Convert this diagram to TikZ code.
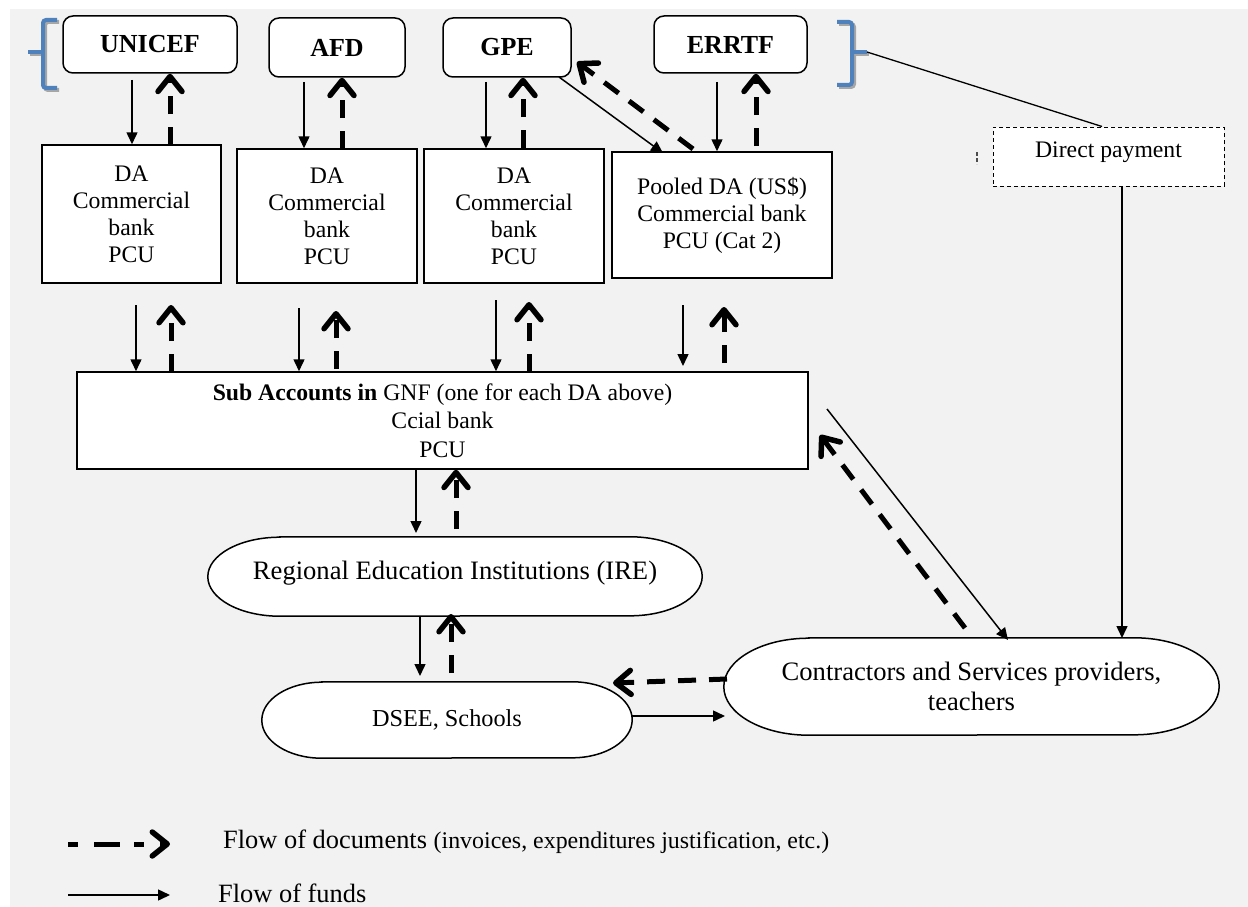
\documentclass[tikz,border=0pt]{standalone}
\usepackage{fontspec}
\setmainfont{Liberation Serif}
\usetikzlibrary{arrows.meta,calc}
\definecolor{bggray}{HTML}{F2F2F2}
\definecolor{brblue}{HTML}{4F81BD}
\definecolor{shgray}{HTML}{A6A6A6}
\pgfdeclarelayer{bottom}
\pgfdeclarelayer{background}
\pgfsetlayers{bottom,background,main}
\newcommand{\txt}{\fontsize{23.7}{27}\selectfont}
\newcommand{\bigtxt}{\fontsize{26.6}{29.5}\selectfont}
\newcommand{\stadium}[3]{%
  \begin{pgfonlayer}{background}
  \draw[fill=white,line width=1.5pt] ([xshift=#2]#1.north west) -- ([xshift=-#2]#1.north east)
     arc[start angle=90,end angle=-90,x radius=#2,y radius=#3]
     -- ([xshift=#2]#1.south west)
     arc[start angle=270,end angle=90,x radius=#2,y radius=#3] -- cycle;
  \end{pgfonlayer}}
\begin{document}
\begin{tikzpicture}[x=1pt,y=-1pt,
  box/.style={draw,fill=white,line width=1.5pt,align=center,font=\txt,inner sep=0pt},
  topbox/.style={box,rounded corners=10pt,font=\fontsize{26}{30}\selectfont\bfseries},
  oval/.style={align=center,font=\bigtxt,inner sep=0pt},
  fund/.style={line width=1.5pt,-{Triangle[length=12pt,width=11pt]}},
  doc/.style={line width=5pt,dash pattern=on 18pt off 13pt,-{Straight Barb[length=15pt,width=24pt,line width=5.5pt,round]}},
  brace/.style={brblue,line width=4pt,rounded corners=3pt},
  braceshadow/.style={shgray,line width=4pt,rounded corners=3pt}]
\useasboundingbox (0,0) rectangle (1248,907);
\begin{pgfonlayer}{bottom}
\fill[bggray] (10,9) rectangle (1248,907);
\end{pgfonlayer}

% top funders
\node[topbox,minimum width=174pt,minimum height=57pt] (unicef) at (150,44.5) {UNICEF};
\node[topbox,minimum width=136pt,minimum height=59pt] (afd) at (337,47.5) {AFD};
\node[topbox,minimum width=128pt,minimum height=59pt] (gpe) at (507,47.5) {GPE};
\node[topbox,minimum width=153pt,minimum height=57pt] (errtf) at (730.5,44.5) {ERRTF};

% braces
\draw[braceshadow] (59,22) -- (45,22) -- (45,90) -- (59,90);
\draw[braceshadow] (45,54) -- (30,54);
\draw[brace] (57,20) -- (43,20) -- (43,88) -- (57,88);
\draw[brace] (43,52) -- (28,52);
\draw[braceshadow] (839,24) -- (854,24) -- (854,87) -- (839,87);
\draw[braceshadow] (854,54) -- (869,54);
\draw[brace] (837,22) -- (852,22) -- (852,85) -- (837,85);
\draw[brace] (852,52) -- (867,52);
\coordinate (rb) at (867,52);

% DA boxes
\node[box,minimum width=179pt,minimum height=138pt] (da1) at (131.5,214) {DA\\Commercial\\bank\\PCU};
\node[box,minimum width=180pt,minimum height=134pt] (da2) at (327,216) {DA\\Commercial\\bank\\PCU};
\node[box,minimum width=180pt,minimum height=134pt] (da3) at (514,216) {DA\\Commercial\\bank\\PCU};
\node[box,minimum width=220pt,minimum height=126pt] (pool) at (722,215) {Pooled DA (US\$)\\Commercial bank\\PCU (Cat 2)};

% direct payment
\node[draw,fill=white,line width=1pt,dash pattern=on 4pt off 3pt,minimum width=231pt,minimum height=59pt] (direct) at (1108.5,156.5) {};
\node[font=\txt,inner sep=0pt] (directtxt) at (1108.5,152) {Direct payment};
\draw[black!70,line width=1.5pt,dash pattern=on 4pt off 2pt] (977,152) -- (977,164);

% sub accounts
\node[box,minimum width=731pt,minimum height=97pt,font=\fontsize{23.7}{28.5}\selectfont] (sub) at (442.5,420.5)
  {\textbf{Sub Accounts in} GNF (one for each DA above)\\Ccial bank\\PCU};

% ovals
\node[oval,minimum width=494pt,minimum height=79pt] (ire) at (455,576.5) {};
\node[font=\bigtxt,inner sep=0pt] (iretxt) at (455,573) {Regional Education Institutions (IRE)};
\stadium{ire}{72pt}{39.5pt}
\node[oval,minimum width=370pt,minimum height=76pt,font=\fontsize{24.3}{28}\selectfont] (dsee) at (447,720) {DSEE, Schools};
\stadium{dsee}{60pt}{38pt}
\node[oval,minimum width=495pt,minimum height=97pt] (contr) at (971.5,686.5) {Contractors and Services providers,\\teachers};
\stadium{contr}{85pt}{48.5pt}

% funds flows
\draw[fund] (132,80) -- (da1.north -| 132,0);
\draw[fund] (304,82) -- (da2.north -| 304,0);
\draw[fund] (486,82) -- (da3.north -| 486,0);
\draw[fund] (717,82) -- (pool.north -| 717,0);
\draw[fund] (559,77) -- (663,153);
\draw[fund] (136,305) -- (sub.north -| 136,0);
\draw[fund] (299,308) -- (sub.north -| 299,0);
\draw[fund] (496,300) -- (sub.north -| 496,0);
\draw[fund] (683,305) -- (683,366);
\draw[fund] (sub.south -| 416,0) -- (416,533);
\draw[fund] (420,617) -- (420,676);
\draw[fund] (632,716) -- (725,716);
\draw[fund] (827,409) -- (1008,640);
\draw[line width=1.3pt] (rb) -- ([xshift=-6.5pt]direct.north);
\draw[fund] ([xshift=13.5pt]direct.south) -- (1122,638);

% document flows
\draw[doc] (170,145) -- (unicef.south -| 170,0);
\draw[doc] (342,149) -- (afd.south -| 342,0);
\draw[doc] (523,148) -- (gpe.south -| 523,0);
\draw[doc] (756,146) -- (errtf.south -| 756,0);
\draw[doc] (693,149) -- (577,62);
\draw[doc] (171,372) -- (171,305);
\draw[doc] (336,369) -- (336,311);
\draw[doc] (529,372) -- (529,302);
\draw[doc] (724,363) -- (724,307);
\draw[doc] (456,529) -- (sub.south -| 456,0);
\draw[doc] (451,673) -- (451,614);
\draw[doc] (727,679) -- (613,683);
\draw[doc] (965,628) -- (820,435);

% legend
\coordinate (l1a) at (68,844); \coordinate (l1b) at (170,844);
\coordinate (l2a) at (68,895); \coordinate (l2b) at (170,895);
\draw[doc,dash pattern=on 10pt off 16pt on 26pt off 14pt] (l1a) -- (l1b);
\draw[fund] (l2a) -- (l2b);
\node[anchor=west,inner sep=0pt] (leg1) at (223,842) {\fontsize{26.4}{30}\selectfont Flow of documents \fontsize{23.9}{28}\selectfont(invoices, expenditures justification, etc.)};
\node[anchor=west,inner sep=0pt] (leg2) at (218,893) {\fontsize{26.4}{30}\selectfont Flow of funds};
\end{tikzpicture}
\end{document}
